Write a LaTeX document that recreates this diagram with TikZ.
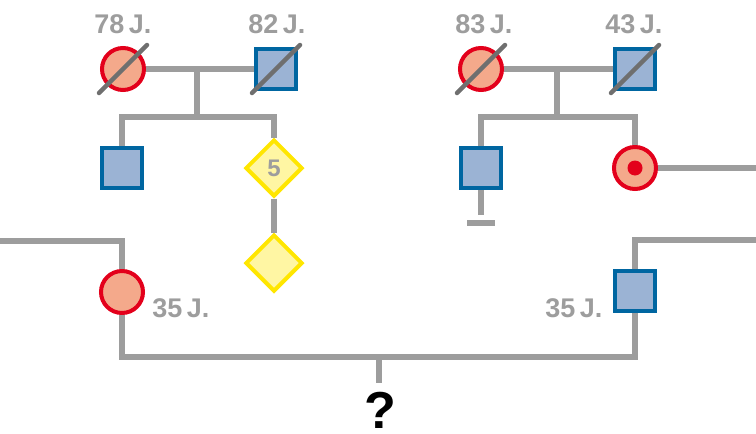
\documentclass[tikz,border=0pt]{standalone}
\usepackage{fontspec}
\setmainfont{Liberation Sans}
\usepackage{xcolor}
\usetikzlibrary{shapes.geometric,positioning}
\definecolor{femred}{HTML}{E3001B}
\definecolor{femfill}{HTML}{F4A98B}
\definecolor{malblue}{HTML}{0066A1}
\definecolor{malfill}{HTML}{9BB3D4}
\definecolor{unkyellow}{HTML}{FFE600}
\definecolor{unkfill}{HTML}{FFF6A3}
\definecolor{linegray}{HTML}{9D9D9D}
\definecolor{slashgray}{HTML}{6F6F6F}
\tikzstyle{female}=[
        draw = femred,
        line width = 4pt,
        fill = femfill,
        minimum size = 42pt,
        inner sep = 0pt,
        circle
    ]
\tikzstyle{male}=[
    draw = malblue,
    line width = 4pt,
    fill = malfill,
    minimum size = 40pt,
    inner sep = 0pt,
    rectangle
]
\tikzstyle{unknown}=[
    draw = unkyellow,
    line width = 4pt,
    fill = unkfill,
    minimum size = 57pt,
    inner sep = 0pt,
    diamond,
    text = linegray,
    font = \bfseries\fontsize{24}{24}\selectfont
]

\begin{document}
\begin{tikzpicture}[x=1pt, y=-1pt, node distance={95pt},
        line/.style = {draw = linegray, line width = 5.5pt},
        slash/.style = {draw = slashgray, line width = 4.5pt, line cap = round},
        age/.style = {anchor = base, text = linegray, inner sep = 0pt, font = \bfseries\fontsize{27}{27}\selectfont}]
        \useasboundingbox (0,0) rectangle (756,434);

        % grandparents left
        \node[female] (gmL) at (123,69) {};
        \node[male] (gfL) at (276,69) {};
        \node[male] (cL1) at (122,168) {};
        \node[unknown] (dia5) at (274,168) {5};
        \node[unknown] (diaU) [below of = dia5] {};
        % grandparents right
        \node[female] (gmR) at (481,69) {};
        \node[male] (gfR) at (635,69) {};
        \node[male] (cR1) at (481,168) {};
        \node[female] (cR2) at (635,168) {};
        \node[circle, fill = femred, minimum size = 15pt, inner sep = 0pt] (dotR) at (cR2) {};
        % parents
        \node[female] (mo) at (122,292) {};
        \node[male] (fa) at (635,291) {};
        \node[font = \bfseries\fontsize{52}{52}\selectfont, inner sep = 0pt, text depth = 0pt, anchor = base] (q) at (380,428) {?};

        \coordinate (mL) at (197,69);
        \coordinate (sibL) at (197,117);
        \coordinate (mR) at (557,69);
        \coordinate (sibR) at (557,117);
        \coordinate (noKids) at (481,215);
        \coordinate (barL) at (467,223);
        \coordinate (barR) at (495,223);
        \coordinate (eL) at (0,241);
        \coordinate (eR1) at (756,168);
        \coordinate (eR2) at (756,240);
        \coordinate (cpl) at (379,357);
        \coordinate (qTop) at (379,383);

        \draw[line] (gmL) -- (gfL);
        \draw[line] (mL) -- (sibL);
        \draw[line] (cL1) |- (sibL) -| (dia5);
        \draw[line] (dia5) -- (diaU);
        \draw[line] (gmR) -- (gfR);
        \draw[line] (mR) -- (sibR);
        \draw[line] (cR1) |- (sibR) -| (cR2);
        \draw[line] (cR1) -- (noKids);
        \draw[line] (barL) -- (barR);
        \draw[line] (cR2) -- (eR1);
        \draw[line] (eL) -| (mo);
        \draw[line] (eR2) -| (fa);
        \draw[line] (mo) |- (cpl) -| (fa);
        \draw[line] (cpl) -- (qTop);

        % deceased
        \draw[slash] (gmL.center) ++(-24,24) -- ++(48,-48);
        \draw[slash] (gfL.center) ++(-24,24) -- ++(48,-48);
        \draw[slash] (gmR.center) ++(-24,24) -- ++(48,-48);
        \draw[slash] (gfR.center) ++(-24,24) -- ++(48,-48);

        \node[age] (aGmL) at (123,33) {78\,J.};
        \node[age] (aGfL) at (277,33) {82\,J.};
        \node[age] (aGmR) at (484,33) {83\,J.};
        \node[age] (aGfR) at (634,33) {43\,J.};
        \node[age] (aMo) at (181,317) {35\,J.};
        \node[age] (aFa) at (574,317) {35\,J.};

    \end{tikzpicture}
\end{document}
